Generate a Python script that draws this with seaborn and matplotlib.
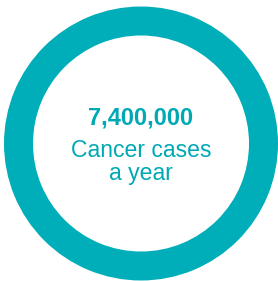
import matplotlib
matplotlib.use("Agg")
import matplotlib.pyplot as plt
import seaborn as sns

sns.set_theme(style="white")
plt.rcParams['font.family'] = ['Liberation Sans', 'DejaVu Sans']

values = [7400000]
headline = "7,400,000"
caption_lines = ["Cancer cases", "a year"]
ring_color = "#00AEB9"
text_color = "#00A9B4"

fig = plt.figure(figsize=(2.78, 2.81), dpi=100)
ax = fig.add_axes([0, 0, 1, 1])
ax.pie(values, colors=[ring_color], radius=137, center=(141, 143.5),
       startangle=90, wedgeprops=dict(width=29, linewidth=0))
ax.set_xlim(0, 278)
ax.set_ylim(281, 0)
ax.set_aspect('equal')
ax.axis('off')

ax.text(141, 125, headline, ha='center', va='baseline', fontsize=17,
        fontweight='bold', color=text_color)
for line, y in zip(caption_lines, [157, 180]):
    ax.text(141, y, line, ha='center', va='baseline', fontsize=16.6,
            color=text_color)

fig.savefig("out.png", dpi=100)
